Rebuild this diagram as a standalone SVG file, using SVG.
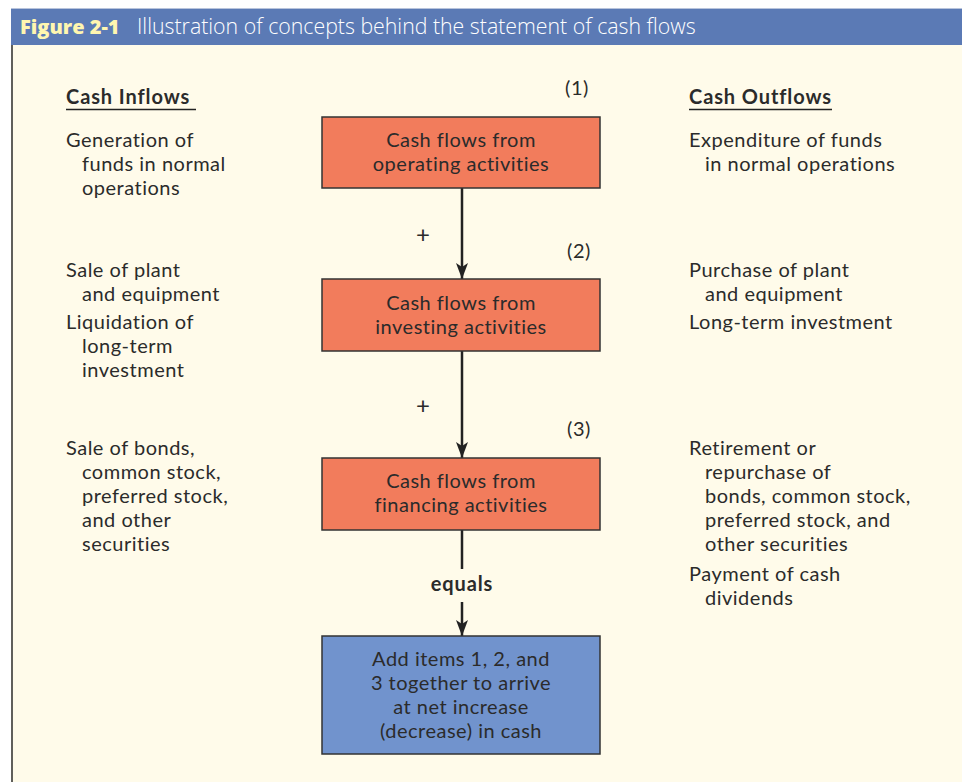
<svg xmlns="http://www.w3.org/2000/svg" width="962" height="782" viewBox="0 0 962 782">
<defs>
<style>
text{font-family:Lato,"Open Sans","Liberation Sans",sans-serif;fill:#2b2b2b;font-size:20px;letter-spacing:0.5px}
.hd{font-weight:bold;letter-spacing:0.9px}
.c{text-anchor:middle}
.box{fill:#f27c5c;stroke:#333;stroke-width:1.5}
.blue{fill:#7193cd;stroke:#333;stroke-width:1.5}
.ln{stroke:#222;stroke-width:2.5;fill:none}
</style>
<marker id="ah2" viewBox="0 0 16 12" refX="16" refY="6" markerWidth="16" markerHeight="12" markerUnits="userSpaceOnUse" orient="auto">
<path d="M0,0 L16,6 L0,12 L4,6 Z" fill="#222"/>
</marker>
</defs>
<rect x="0" y="0" width="962" height="782" fill="#ffffff"/>
<rect x="11" y="45" width="951" height="737" fill="#fffbea"/>
<line x1="12" y1="45" x2="12" y2="782" stroke="#2b2b2b" stroke-width="1.5"/>
<rect x="11" y="8" width="951" height="37" fill="#5b7ab5"/>
<line x1="11" y1="8.5" x2="962" y2="8.5" stroke="#b8c4dc" stroke-width="1"/>
<text x="20" y="34" style="font-family:'Open Sans',sans-serif;font-weight:900;font-size:20px;letter-spacing:0;fill:#fff6b0">Figure 2-1</text>
<text x="137" y="34" style="font-family:'Open Sans',sans-serif;font-size:21.3px;letter-spacing:0;fill:#ffffff;font-weight:300">Illustration of concepts behind the statement of cash flows</text>

<g id="inflows">
<text x="66" y="104" class="hd">Cash Inflows</text>
<line x1="66" y1="109.5" x2="196" y2="109.5" stroke="#222" stroke-width="1.5"/>
<text x="66" y="147">Generation of</text>
<text x="82" y="171">funds in normal</text>
<text x="82" y="195">operations</text>
<text x="66" y="277">Sale of plant</text>
<text x="82" y="301">and equipment</text>
<text x="66" y="329">Liquidation of</text>
<text x="82" y="353">long-term</text>
<text x="82" y="377">investment</text>
<text x="66" y="455">Sale of bonds,</text>
<text x="82" y="479">common stock,</text>
<text x="82" y="503">preferred stock,</text>
<text x="82" y="527">and other</text>
<text x="82" y="551">securities</text>
</g>

<g id="outflows">
<text x="689" y="104" class="hd">Cash Outflows</text>
<line x1="689" y1="109.5" x2="832" y2="109.5" stroke="#222" stroke-width="1.5"/>
<text x="689" y="147">Expenditure of funds</text>
<text x="705" y="171">in normal operations</text>
<text x="689" y="277">Purchase of plant</text>
<text x="705" y="301">and equipment</text>
<text x="689" y="329">Long-term investment</text>
<text x="689" y="455">Retirement or</text>
<text x="705" y="479">repurchase of</text>
<text x="705" y="503">bonds, common stock,</text>
<text x="705" y="527">preferred stock, and</text>
<text x="705" y="551">other securities</text>
<text x="689" y="581">Payment of cash</text>
<text x="705" y="605">dividends</text>
</g>

<g id="connectors">
<line class="ln" x1="462" y1="188" x2="462" y2="279" marker-end="url(#ah2)"/>
<line class="ln" x1="462" y1="351" x2="462" y2="458" marker-end="url(#ah2)"/>
<line class="ln" x1="462" y1="530" x2="462" y2="569"/>
<line class="ln" x1="462" y1="602" x2="462" y2="636" marker-end="url(#ah2)"/>
<text x="423" y="243" class="c" style="font-size:24px;letter-spacing:0">+</text>
<text x="423" y="414" class="c" style="font-size:24px;letter-spacing:0">+</text>
<text x="462" y="591" class="c hd">equals</text>
</g>

<g id="n1">
<text x="577" y="95" class="c">(1)</text>
<rect class="box" x="322" y="117" width="278" height="71"/>
<text x="461" y="147" class="c">Cash flows from</text>
<text x="461" y="171" class="c">operating activities</text>
</g>
<g id="n2">
<text x="579" y="258" class="c">(2)</text>
<rect class="box" x="322" y="279" width="278" height="72"/>
<text x="461" y="310" class="c">Cash flows from</text>
<text x="461" y="334" class="c">investing activities</text>
</g>
<g id="n3">
<text x="579" y="436" class="c">(3)</text>
<rect class="box" x="322" y="458" width="278" height="72"/>
<text x="461" y="488" class="c">Cash flows from</text>
<text x="461" y="512" class="c">financing activities</text>
</g>
<g id="n4">
<rect class="blue" x="322" y="636" width="278" height="118"/>
<text x="461" y="666" class="c">Add items 1, 2, and</text>
<text x="461" y="690" class="c">3 together to arrive</text>
<text x="461" y="714" class="c">at net increase</text>
<text x="461" y="738" class="c">(decrease) in cash</text>
</g>
</svg>
